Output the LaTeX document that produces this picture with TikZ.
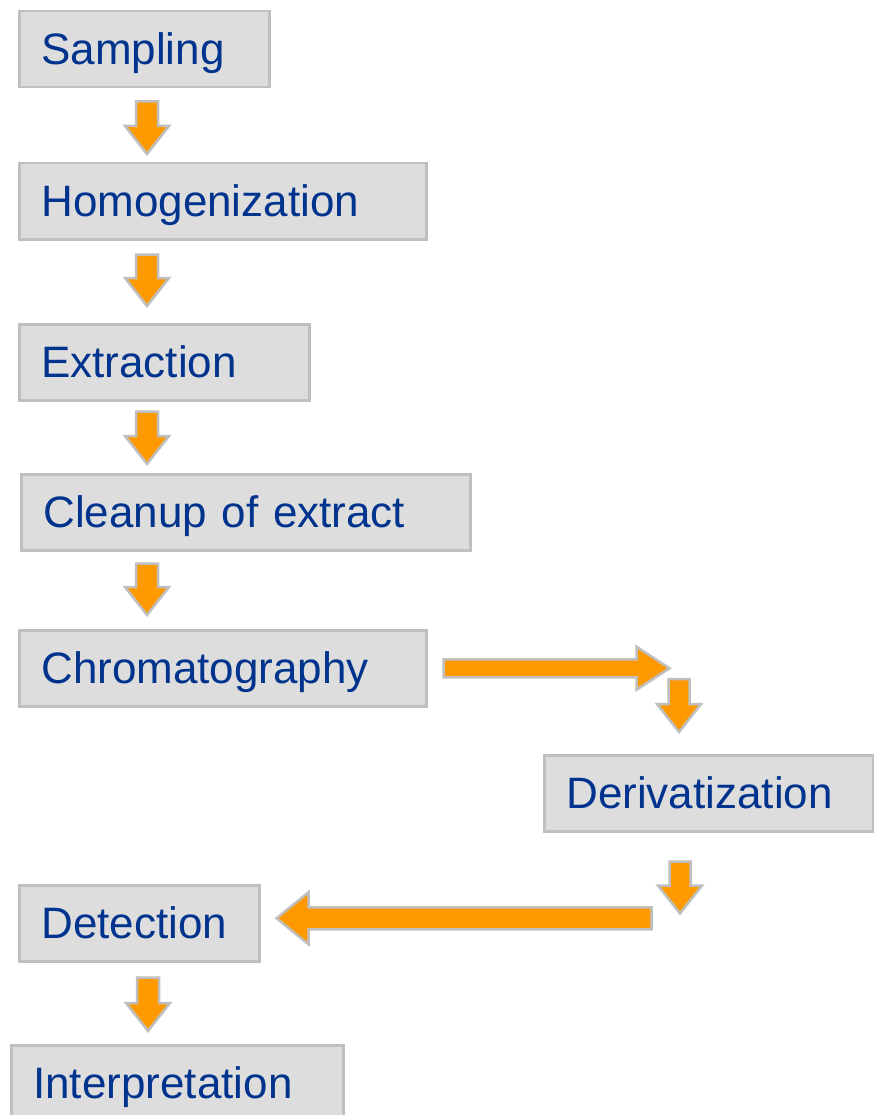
\documentclass[tikz,border=0pt]{standalone}
\usepackage{fontspec}
\setmainfont{Liberation Sans}
\definecolor{stepblue}{RGB}{0, 51, 141}
\definecolor{stepgray}{RGB}{221, 221, 221}
\definecolor{edgegray}{RGB}{191, 191, 191}
\definecolor{flowor}{RGB}{255, 153, 0}
\usetikzlibrary{calc}
\tikzset{
    stepbox/.style={rectangle, draw=edgegray, fill=stepgray, line width=2.5pt,
                    anchor=north west, minimum height=76pt, inner xsep=22pt,
                    text height=31pt, text depth=0pt, align=left, text=stepblue,
                    font=\fontsize{44}{50}\selectfont},
    blockarrow/.style={draw=edgegray, fill=flowor, line width=2.5pt, line join=miter},
}
% #1 tail, #2 tip, #3 half shaft, #4 half head, #5 head length
\newcommand{\blockarrow}[5]{
    \coordinate (ba-c) at ($(#2)!#5pt!(#1)$);
    \draw[blockarrow] ($(#1)!#3pt!90:(#2)$) -- ($(ba-c)!#3pt!90:(#2)$) -- ($(ba-c)!#4pt!90:(#2)$)
        -- (#2) -- ($(ba-c)!#4pt!-90:(#2)$) -- ($(ba-c)!#3pt!-90:(#2)$) -- ($(#1)!#3pt!-90:(#2)$) -- cycle;
}

\begin{document}
\begin{tikzpicture}[x=1pt, y=-1pt]
    \useasboundingbox (0,0) rectangle (873,1115);
    \node[stepbox, text width=206pt] (samp) at (18,10) {Sampling};
    \node[stepbox, text width=363pt] (homog) at (18,162) {Homogenization};
    \node[stepbox, text width=246pt] (extr) at (18,323) {Extraction};
    \node[stepbox, text width=405pt] (clean) at (20,473) {Cleanup of extract};
    \node[stepbox, text width=363pt] (chrom) at (18,629) {Chromatography};
    \node[stepbox, text width=285pt] (deriv) at (543,754) {Derivatization};
    \node[stepbox, text width=196pt] (detect) at (18,884) {Detection};
    \node[stepbox, text width=288pt] (interp) at (10,1044) {Interpretation};
    % arrow ends
    \coordinate (t1) at ($(samp.south west)+(129,13)$);
    \coordinate (h1) at ($(homog.north west)+(129,-8)$);
    \coordinate (t2) at ($(homog.south west)+(129,14)$);
    \coordinate (h2) at ($(extr.north west)+(129,-17)$);
    \coordinate (t3) at ($(extr.south west)+(129,10)$);
    \coordinate (h3) at ($(clean.north west)+(127,-9)$);
    \coordinate (t4) at ($(clean.south west)+(127,12)$);
    \coordinate (h4) at ($(chrom.north west)+(129,-14)$);
    \coordinate (t5) at ($(chrom.east)+(16,0)$);
    \coordinate (h5) at ($(chrom.east)+(242,0)$);
    \coordinate (t6) at ($(deriv.north west)+(136,-75)$);
    \coordinate (h6) at ($(deriv.north west)+(136,-22)$);
    \coordinate (t7) at ($(deriv.south west)+(137,29)$);
    \coordinate (h7) at ($(deriv.south west)+(137,81)$);
    \coordinate (t8) at ($(detect.east)+(391,-5)$);
    \coordinate (h8) at ($(detect.east)+(16,-5)$);
    \coordinate (t9) at ($(detect.south west)+(130,15)$);
    \coordinate (h9) at ($(interp.north west)+(138,-13)$);
    \blockarrow{t1}{h1}{11}{22}{28}
    \blockarrow{t2}{h2}{11}{22}{28}
    \blockarrow{t3}{h3}{11}{22}{28}
    \blockarrow{t4}{h4}{11}{22}{28}
    \blockarrow{t5}{h5}{9}{21.5}{33}
    \blockarrow{t6}{h6}{10.5}{22}{28}
    \blockarrow{t7}{h7}{10.5}{22}{28}
    \blockarrow{t8}{h8}{11}{26}{32}
    \blockarrow{t9}{h9}{11}{22}{28}
\end{tikzpicture}
\end{document}
